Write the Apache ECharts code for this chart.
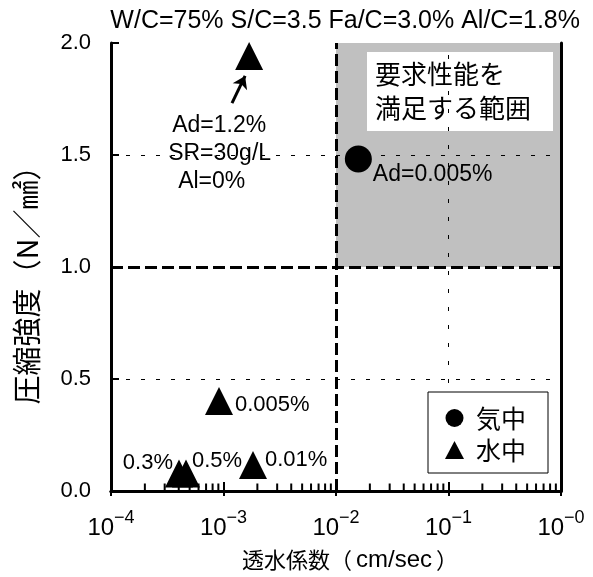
<!DOCTYPE html>
<html><head><meta charset="utf-8">
<script src="https://cdn.jsdelivr.net/npm/echarts@6/dist/echarts.min.js"></script>
<style>html,body{margin:0;padding:0;background:#fff}#c{width:593px;height:577px}</style>
</head><body><div id="c"></div>
<script>
// ---- data ----
const titleText = 'W/C=75% S/C=3.5 Fa/C=3.0% Al/C=1.8%';
const xTitleParts = ['透水係数（', 'cm/sec', '）'];
const yTitleMain = '圧縮強度（N／㎟）';
const seriesNames = ['気中', '水中'];
const xMin = 1e-4, xMax = 1;
const yMin = 0, yMax = 2, yInterval = 0.5;
const airPoints = [[0.0158, 1.482]];
const airLabels = ['Ad=0.005%'];
const waterPoints = [[1.69e-3, 1.942], [9.12e-4, 0.402], [1.83e-3, 0.116], [4.02e-4, 0.078], [4.64e-4, 0.078]];
const waterLabels = ['Ad=1.2%|SR=30g/L|Al=0%', '0.005%', '0.01%', '0.3%', '0.5%'];
const minorTickValues = [2e-4,3e-4,4e-4,5e-4,6e-4,7e-4,8e-4,9e-4,
  2e-3,3e-3,4e-3,5e-3,6e-3,7e-3,8e-3,9e-3,
  2e-2,3e-2,4e-2,5e-2,6e-2,7e-2,8e-2,9e-2,
  2e-1,3e-1,4e-1,5e-1,6e-1,7e-1,8e-1,9e-1];
const dottedX = [1e-3, 1e-1];
const dottedY = [0.5, 1.5];
const dashedX = [1e-2];
const dashedY = [1.0];
const regionRange = [[1e-2, 1.0], [1, 2.0]];
const regionText = '要求性能を\n満足する範囲';
const regionBox = [[0.01886, 1.96], [0.849, 1.607]];
const arrowFromTo = [[1.19e-3, 1.732], [1.556e-3, 1.853]];

const LAT = "'Liberation Sans', 'Noto Sans CJK JP', sans-serif";
const JP = "'Noto Sans CJK JP', sans-serif";

const labelCfg = [
  {position: [-67, 70], align: 'left', verticalAlign: 'top'},
  {position: 'right', distance: 2, offset: [0, 4]},
  {position: 'right', distance: -2, offset: [0, -5]},
  {position: 'left', distance: -8, offset: [0, -11]},
  {position: 'right', distance: -8, offset: [0, -13]}
];

const waterData = waterPoints.map((p, i) => {
  const cfg = labelCfg[i];
  const lab = Object.assign({show: true, color: '#000', opacity: 1, fontSize: 22, fontFamily: LAT}, cfg);
  if (i === 0) {
    const parts = waterLabels[0].split('|');
    lab.formatter = '{a|' + parts[0] + '}\n{b|' + parts[1] + '}\n{c|' + parts[2] + '}';
    lab.rich = {
      a: {fontSize: 23, fontFamily: LAT, color: '#000', lineHeight: 28, padding: [0, 0, 0, 4]},
      b: {fontSize: 23, fontFamily: LAT, color: '#000', lineHeight: 28, padding: [0, 0, 0, 0]},
      c: {fontSize: 23, fontFamily: LAT, color: '#000', lineHeight: 28, padding: [0, 0, 0, 10]}
    };
  } else {
    lab.formatter = waterLabels[i];
  }
  return {value: p, label: lab};
});

const chart = echarts.init(document.getElementById('c'), null, {renderer: 'canvas'});
const sup = v => {
  const e = Math.round(Math.log10(v));
  return '{b|10}{s|\u2212' + Math.abs(e) + '}';
};

chart.setOption({
  animation: false,
  backgroundColor: '#fff',
  title: {
    text: titleText, right: 13, top: 9, padding: 0,
    textStyle: {fontSize: 25, fontWeight: 'normal', fontFamily: LAT, color: '#000'}
  },
  grid: {left: 111, right: 32, top: 43, bottom: 86, show: false},
  legend: {
    data: [{name: seriesNames[0], icon: 'circle'}, {name: seriesNames[1], icon: 'triangle'}],
    orient: 'vertical', left: 428, top: 392,
    padding: [12, 22, 9, 17], itemGap: 4, itemWidth: 19, itemHeight: 18,
    borderColor: '#000', borderWidth: 1, backgroundColor: '#fff',
    selectedMode: false,
    itemStyle: {opacity: 1, color: '#000'},
    textStyle: {fontSize: 25, fontFamily: JP, color: '#000', lineHeight: 28, padding: [0, 0, 0, 7]},
    z: 20
  },
  xAxis: [{
    type: 'log', logBase: 10, min: xMin, max: xMax, z: 10,
    axisLine: {show: true, lineStyle: {color: '#000', width: 3}},
    axisTick: {show: true, inside: true, length: 9, lineStyle: {color: '#000', width: 2}},
    axisLabel: {
      margin: 18, showMinLabel: true, showMaxLabel: true, formatter: sup,
      rich: {
        b: {fontSize: 24, fontFamily: LAT, color: '#000', lineHeight: 31, verticalAlign: 'bottom'},
        s: {fontSize: 18, fontFamily: LAT, color: '#000', lineHeight: 18, verticalAlign: 'top'}
      }
    },
    splitLine: {show: false}, minorTick: {show: false}
  }, {
    type: 'log', logBase: 10, min: xMin, max: xMax, position: 'top', z: 10,
    axisLine: {show: true, lineStyle: {color: '#000', width: 3}},
    axisTick: {show: true, inside: true, length: 5, lineStyle: {color: '#000', width: 2}},
    axisLabel: {show: false}, splitLine: {show: false}
  }],
  yAxis: [{
    type: 'value', min: yMin, max: yMax, interval: yInterval, z: 10,
    axisLine: {show: true, lineStyle: {color: '#000', width: 3}},
    axisTick: {show: true, inside: true, length: 8, lineStyle: {color: '#000', width: 2}},
    axisLabel: {margin: 20, fontSize: 22, fontFamily: LAT, color: '#000', formatter: v => v.toFixed(1)},
    splitLine: {show: false}
  }, {
    type: 'value', min: yMin, max: yMax, interval: yInterval, position: 'right', z: 10,
    axisLine: {show: true, lineStyle: {color: '#000', width: 3}},
    axisTick: {show: false}, axisLabel: {show: false}, splitLine: {show: false}
  }],
  graphic: [
    {type: 'text', x: 27, y: 278, rotation: Math.PI / 2, z: 20,
      style: {text: yTitleMain, font: "29px 'Noto Sans CJK JP'", fill: '#000', align: 'center', verticalAlign: 'middle', textAlign: 'center', textVerticalAlign: 'middle'}},
    {type: 'text', x: 350, y: 560, z: 20,
      style: {
        text: '{j|' + xTitleParts[0] + '}{l|' + xTitleParts[1] + '}{j|' + xTitleParts[2] + '}',
        rich: {
          j: {fontSize: 22, fontFamily: JP, fill: '#000'},
          l: {fontSize: 24, fontFamily: "'Liberation Sans'", fill: '#000', padding: [0, 4, 0, 4]}
        },
        fill: '#000', align: 'center', verticalAlign: 'middle', textAlign: 'center', textVerticalAlign: 'middle'}}
  ],
  series: [
    {
      type: 'scatter', name: '_region', data: [], z: 1, silent: true,
      markArea: {
        silent: true,
        itemStyle: {color: '#c0c0c0', opacity: 1},
        data: [[{coord: regionRange[0]}, {coord: regionRange[1]}]]
      }
    },
    {
      type: 'scatter', name: '_lines', data: [], z: 2, silent: true,
      markLine: {
        silent: true, symbol: 'none', label: {show: false}, animation: false,
        data: [
          ...dottedX.map(v => ({xAxis: v, lineStyle: {color: '#000', width: 1, type: [4, 14], opacity: 1}})),
          ...dottedY.map(v => ({yAxis: v, lineStyle: {color: '#000', width: 1, type: [4, 11], opacity: 1}})),
          ...dashedX.map(v => ({xAxis: v, lineStyle: {color: '#000', width: 3, type: [12, 5], opacity: 1}})),
          ...dashedY.map(v => ({yAxis: v, lineStyle: {color: '#000', width: 3, type: [12, 5], opacity: 1}}))
        ]
      }
    },
    {
      type: 'scatter', name: '_box', data: [], z: 3, silent: true,
      markArea: {
        silent: true,
        itemStyle: {color: '#fff', opacity: 1},
        label: {show: true, position: 'insideLeft', distance: 8, formatter: regionText, color: '#000', fontSize: 26, fontFamily: JP, lineHeight: 34, align: 'left'},
        data: [[{coord: regionBox[0]}, {coord: regionBox[1]}]]
      }
    },
    {
      type: 'scatter', name: '_minor', data: minorTickValues.map(v => [v, 0]), z: 11, silent: true,
      symbol: 'rect', symbolSize: [2, 7], symbolOffset: [0, -4], clip: false,
      itemStyle: {color: '#000', opacity: 1}
    },
    {
      type: 'scatter', name: seriesNames[0], data: airPoints.map((p, i) => ({value: p, label: {show: true, formatter: airLabels[i], position: 'right', distance: 1, offset: [0, 16], color: '#000', fontSize: 23, fontFamily: LAT}})),
      symbol: 'circle', symbolSize: 27, itemStyle: {color: '#000', opacity: 1}, z: 5, clip: false
    },
    {
      type: 'scatter', name: seriesNames[1], data: waterData,
      symbol: 'triangle', symbolSize: 28, itemStyle: {color: '#000', opacity: 1}, z: 5, clip: false,
      markLine: {
        silent: true, symbol: ['none', 'arrow'], symbolSize: 12, label: {show: false},
        lineStyle: {color: '#000', width: 3, type: 'solid', opacity: 1},
        data: [[{coord: arrowFromTo[0]}, {coord: arrowFromTo[1]}]]
      }
    }
  ]
});
</script></body></html>
